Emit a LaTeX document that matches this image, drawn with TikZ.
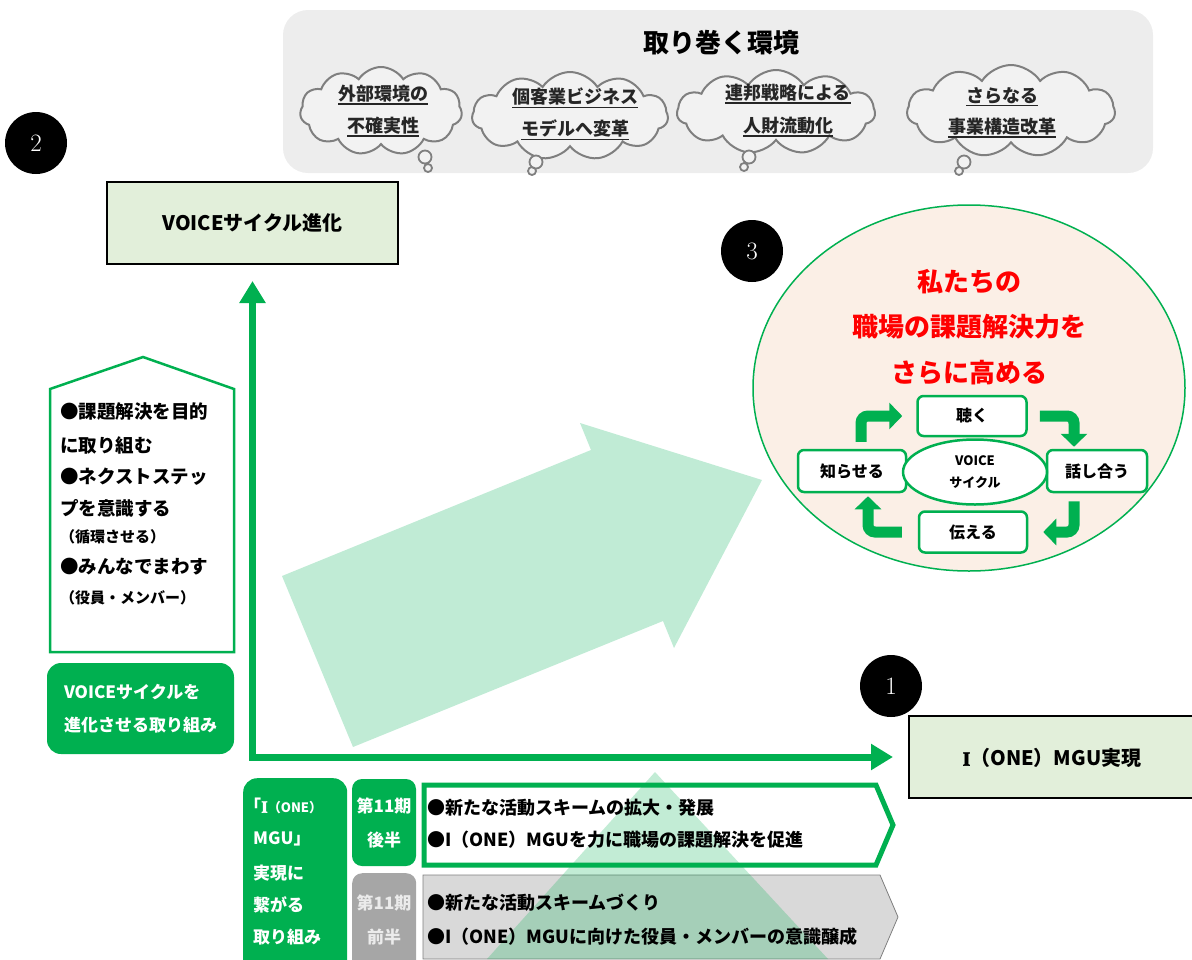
\documentclass[tikz,border=0pt]{standalone}
\usepackage{fontspec}
\newfontfamily\jp{Noto Sans CJK JP}
\newfontfamily\ser{Liberation Serif}[FakeBold=2.5]
\usetikzlibrary{shapes.geometric,shapes.symbols,arrows.meta,calc}
\definecolor{grn}{HTML}{00B050}
\definecolor{boxfill}{HTML}{E2EFDA}
\definecolor{envbg}{HTML}{EDEDED}
\definecolor{cloudfill}{HTML}{F2F2F2}
\definecolor{cloudline}{HTML}{7F7F7F}
\definecolor{peach}{HTML}{FBEFE6}
\definecolor{bigarr}{HTML}{C0EBD5}
\definecolor{greybox}{HTML}{A6A6A6}
\definecolor{greychev}{HTML}{D9D9D9}
\definecolor{redtxt}{HTML}{FF0000}
\newcommand\fsz[1]{\fontsize{#1}{#1}\selectfont}
\newcommand\ulin[1]{\setbox0=\hbox{#1}\rlap{\rule[-4pt]{\wd0}{1.3pt}}\box0}
\newcommand\serI{{\ser I}}
\begin{document}
\begin{tikzpicture}[x=1pt,y=-1pt,
  every node/.style={inner sep=0pt},
  envpanel/.style={rectangle,rounded corners=25pt,fill=envbg,minimum width=870pt,minimum height=163pt},
  cloudsh/.style={cloud,cloud puffs=11,cloud puff arc=115,cloud ignores aspect,draw=cloudline,line width=2pt,fill=cloudfill},
  bubble/.style={draw=cloudline,line width=1.8pt,fill=cloudfill},
  cloudtxt/.style={font=\jp\bfseries\fsz{18},text=black!85},
  titlebox/.style={rectangle,draw=black,line width=2pt,fill=boxfill,font=\jp\bfseries\fsz{20}},
  numc/.style={circle,fill=black,minimum size=62pt,text=white,font=\fsz{25}},
  ptxt/.style={anchor=west,font=\jp\bfseries\fsz{18.5}},
  psmall/.style={anchor=west,font=\jp\bfseries\fsz{15}},
  gboxsh/.style={rectangle,rounded corners=14pt,fill=grn},
  wtxt/.style={text=white,font=\jp\bfseries\fsz{17}},
  chtxt/.style={anchor=west,font=\jp\bfseries\fsz{18}},
  mainarr/.style={draw=grn,line width=7pt},
  cycbox/.style={rectangle,rounded corners=6pt,draw=grn,line width=2.5pt,fill=white,font=\jp\bfseries\fsz{16}},
  cyc/.style={draw=grn,line width=11pt,rounded corners=7pt,-{Triangle[width=26pt,length=13pt]}},
  redt/.style={text=redtxt,font=\jp\bfseries\fsz{26}}
]
\useasboundingbox (0,0) rectangle (1192,959);
\begin{scope}
\clip (0,0) rectangle (1192,959);

% ---- environment panel
\node[envpanel] (env) at (718,91.5) {};
\node[font=\jp\bfseries\fsz{26}] (envt) at (721,43) {取り巻く環境};

\node[cloudsh,minimum width=162pt,minimum height=88pt] (c1) at (381,111) {};
\node[cloudsh,minimum width=196pt,minimum height=88pt] (c2) at (570,116) {};
\node[cloudsh,minimum width=198pt,minimum height=84pt] (c3) at (776,112) {};
\node[cloudsh,minimum width=208pt,minimum height=92pt] (c4) at (1011,111) {};
\draw[bubble] (425,157) circle[radius=6.5pt] (428,168) circle[radius=4pt];
\draw[bubble] (536,162) circle[radius=6.5pt] (532,171) circle[radius=4pt];
\draw[bubble] (749,157) circle[radius=6.5pt] (744,167) circle[radius=4pt];
\draw[bubble] (964,162) circle[radius=6.5pt] (959,171) circle[radius=4pt];
\node[cloudtxt] (c1a) at (383,95) {\ulin{外部環境の}};
\node[cloudtxt] (c1b) at (383,127) {\ulin{不確実性}};
\node[cloudtxt] (c2a) at (575,98) {\ulin{個客業ビジネス}};
\node[cloudtxt] (c2b) at (575,130) {\ulin{モデルへ変革}};
\node[cloudtxt] (c3a) at (788,94) {\ulin{連邦戦略による}};
\node[cloudtxt] (c3b) at (788,127) {\ulin{人財流動化}};
\node[cloudtxt] (c4a) at (1002,97) {\ulin{さらなる}};
\node[cloudtxt] (c4b) at (1002,128) {\ulin{事業構造改革}};

% ---- number circles
\node[numc] (n2) at (36,143) {2};
\node[numc] (n3) at (752,251) {3};
\node[numc] (n1) at (891,686) {1};

% ---- title boxes
\node[titlebox,minimum width=291pt,minimum height=82pt] (voice) at (252.5,223) {VOICEサイクル進化};
\node[titlebox,minimum width=300pt,minimum height=82pt,anchor=west] (mgu) at (908,757) {};
\node[font=\jp\bfseries\fsz{20}] (mgut) at (1052,758) {\serI（ONE）MGU実現};

% ---- big light arrow
\fill[bigarr] (282,576) -- (591,450) -- (580,423) -- (762,480) -- (674,648) -- (663,621) -- (353,747) -- cycle;

% ---- main L arrows
\coordinate (corner) at (252.5,757);
\draw[mainarr,{Triangle[width=25pt,length=22pt]}-{Triangle[width=25pt,length=22pt]},shorten <=16pt,shorten >=15pt]
  (voice.south) -- (corner) -- (mgu.west);

% ---- house shape
\draw[grn,line width=2.5pt,fill=white] (50,389) -- (143,357) -- (234,389) -- (234,652) -- (50,652) -- cycle;
\node[ptxt] (p1) at (60,412) {●課題解決を目的};
\node[ptxt] (p2) at (60,445) {に取り組む};
\node[ptxt] (p3) at (60,477) {●ネクストステッ};
\node[ptxt] (p4) at (60,508) {プを意識する};
\node[psmall] (p5) at (60,537) {（循環させる）};
\node[ptxt] (p6) at (60,567) {●みんなでまわす};
\node[psmall] (p7) at (60,598) {（役員・メンバー）};

\node[gboxsh,minimum width=187pt,minimum height=91pt,align=left,text=white,font=\jp\bfseries\fontsize{17}{33}\selectfont] (gb) at (140.5,708.5) {VOICEサイクルを\\進化させる取り組み};

% ---- bottom section
\node[gboxsh,minimum width=104pt,minimum height=200pt,anchor=north west] (leftg) at (243,778) {};
\node[wtxt,anchor=west] (l1) at (244,806) {「\serI{\fsz{13}（ONE）}};
\node[wtxt,anchor=west] (l2) at (253,839) {MGU」};
\node[wtxt,anchor=west] (l3) at (253,873) {実現に};
\node[wtxt,anchor=west] (l4) at (253,905) {繋がる};
\node[wtxt,anchor=west] (l5) at (253,937) {取り組み};

\node[gboxsh,rounded corners=10pt,minimum width=64pt,minimum height=87pt,align=center,text=white,font=\jp\bfseries\fontsize{17}{34}\selectfont] (late) at (384,822.5) {第11期\\後半};
\node[rectangle,rounded corners=10pt,fill=greybox,minimum width=64pt,minimum height=100pt,anchor=north west] (early) at (352,873) {};
\node[align=center,text=white!92!black,font=\jp\bfseries\fontsize{17}{34}\selectfont] (earlyt) at (384,920) {第11期\\前半};

\draw[draw=cloudline,line width=0.8pt,fill=greychev] (423,875) -- (880,875) -- (898,917) -- (880,959) -- (423,959) -- cycle;
\draw[grn,line width=5pt,fill=white] (424,785) -- (876,785) -- (893,825) -- (876,865) -- (424,865) -- cycle;
\fill[grn,fill opacity=0.24] (655,772) -- (828,959) -- (487,959) -- cycle;

\node[chtxt] (t1) at (427,808) {●新たな活動スキームの拡大・発展};
\node[chtxt] (t2) at (427,840) {●I（ONE）MGUを力に職場の課題解決を促進};
\node[chtxt] (t3) at (427,903) {●新たな活動スキームづくり};
\node[chtxt] (t4) at (427,937) {●I（ONE）MGUに向けた役員・メンバーの意識醸成};

% ---- right ellipse
\node[ellipse,draw=grn,line width=1.5pt,fill=peach,minimum width=432pt,minimum height=366pt] (goal) at (969,388) {};
\node[redt] (r1) at (969,282) {私たちの};
\node[redt] (r2) at (969,327) {職場の課題解決力を};
\node[redt] (r3) at (969,373) {さらに高める};

\node[cycbox,minimum width=109pt,minimum height=40pt] (kiku) at (972,416) {聴く};
\node[cycbox,minimum width=100pt,minimum height=42pt] (hanashi) at (1097,471) {話し合う};
\node[cycbox,minimum width=108pt,minimum height=41pt] (tsutaeru) at (973,532) {伝える};
\node[cycbox,minimum width=108pt,minimum height=42pt] (shiraseru) at (852,471) {知らせる};
\node[ellipse,draw=grn,line width=2.5pt,fill=white,minimum width=144pt,minimum height=65pt,align=center,font=\jp\bfseries\fontsize{13}{22}\selectfont] (vc) at (975,472) {VOICE\\サイクル};

\coordinate (ctl) at (861,416);
\coordinate (ctr) at (1074,416);
\coordinate (cbr) at (1074,532);
\coordinate (cbl) at (868,532);
\draw[cyc,shorten <=7pt,shorten >=14pt] (shiraseru.north -| ctl) -- (ctl) -- (kiku.west);
\draw[cyc,shorten <=12pt,shorten >=2pt] (kiku.east) -- (ctr) -- (hanashi.north -| ctr);
\draw[cyc,shorten <=8pt,shorten >=15pt] (hanashi.south -| cbr) -- (cbr) -- (tsutaeru.east);
\draw[cyc,shorten <=16pt,shorten >=3pt] (tsutaeru.west) -- (cbl) -- (shiraseru.south -| cbl);
\end{scope}
\end{tikzpicture}
\end{document}
